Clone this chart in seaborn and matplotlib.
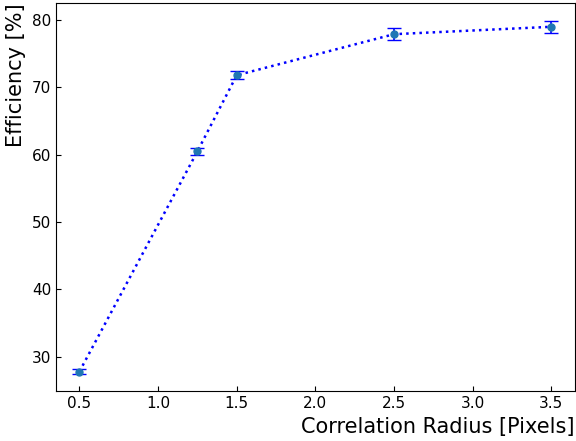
import matplotlib
matplotlib.use("Agg")
import matplotlib.pyplot as plt
import seaborn as sns
import pandas as pd

radius = [0.5, 1.25, 1.5, 2.5, 3.5]
efficiency = [27.8, 60.5, 71.8, 77.9, 79.0]
error = [0.3, 0.5, 0.6, 0.9, 0.9]

df = pd.DataFrame({'Radius': radius, 'Efficiency': efficiency, 'Error': error})

fig, ax = plt.subplots(figsize=(5.76, 4.41), dpi=100)

sns.lineplot(x='Radius', y='Efficiency', data=df, color='b', linestyle=':',
             linewidth=1.8, ax=ax)
ax.errorbar(df['Radius'], df['Efficiency'], yerr=df['Error'], fmt='o',
            color='tab:blue', ecolor='b', capsize=5, markersize=5, elinewidth=1.2)

ax.tick_params(direction='in', labelsize=11)
ax.set_xlabel('Correlation Radius [Pixels]', fontsize=15, loc='right')
ax.set_ylabel('Efficiency [%]', fontsize=15, loc='top')

plt.subplots_adjust(left=0.097, right=0.998, top=0.993, bottom=0.113)
plt.savefig('out.png', dpi=100)
